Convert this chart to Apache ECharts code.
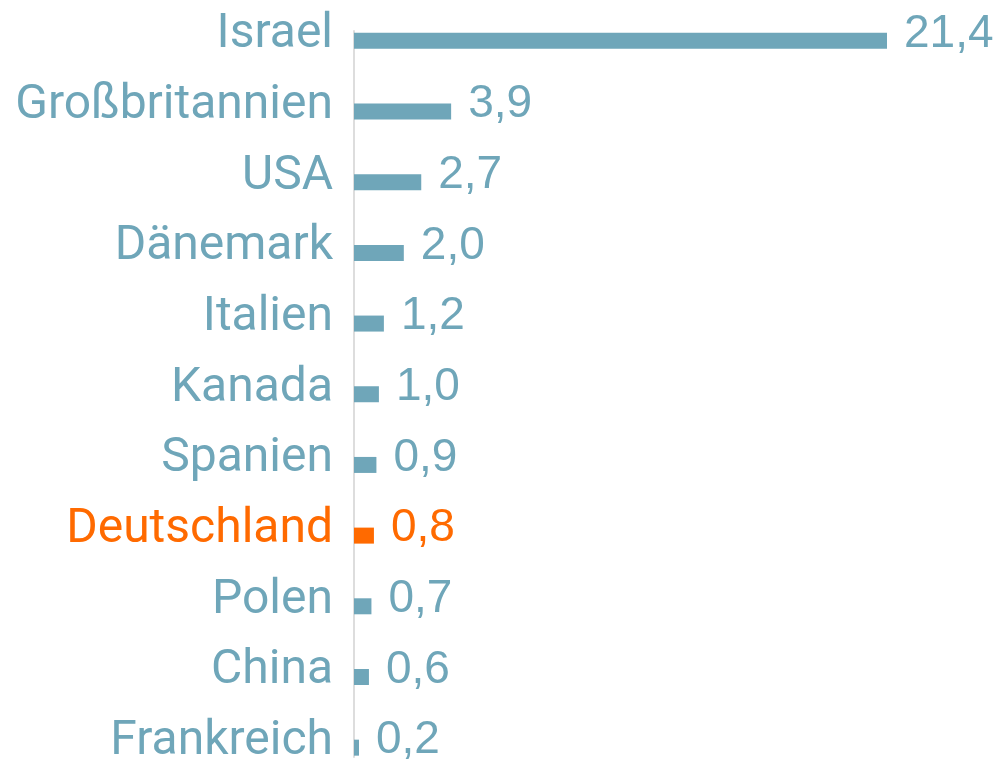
<!DOCTYPE html>
<html><head><meta charset="utf-8">
<script src="https://cdn.jsdelivr.net/npm/echarts@6/dist/echarts.min.js"></script>
<style>html,body{margin:0;padding:0;background:#fff}#c{width:1000px;height:783px}</style>
</head><body><div id="c"></div>
<script>
const categories = ["Israel","Großbritannien","USA","Dänemark","Italien","Kanada","Spanien","Deutschland","Polen","China","Frankreich"];
const values = [21.4,3.9,2.7,2.0,1.2,1.0,0.9,0.8,0.7,0.6,0.2];
const highlight = "Deutschland";
const BLUE = "#6fa6b9", ORANGE = "#ff6a00";
const chart = echarts.init(document.getElementById('c'));
const labelRich = {
  b: {fontFamily: 'Roboto', fontSize: 48, color: BLUE, padding: [0,0,11,0]},
  o: {fontFamily: 'Roboto', fontSize: 48, color: ORANGE, padding: [0,0,11,0]}
};
chart.setOption({
  animation: false,
  grid: [
    {left: 354, right: 113, top: 5.5, bottom: 0},
    {left: 354, right: 113, top: 31, bottom: 26}
  ],
  xAxis: [
    {gridIndex: 0, type: 'value', min: 0, max: 21.4, show: false},
    {gridIndex: 1, type: 'value', min: 0, max: 1, show: false}
  ],
  yAxis: [
    {gridIndex: 0, type: 'category', inverse: true, data: categories,
     axisLine: {show: false}, axisTick: {show: false},
     axisLabel: {margin: 21, rich: labelRich,
       formatter: v => (v === highlight ? '{o|' : '{b|') + v + '}'}},
    {gridIndex: 1, type: 'category', data: [''], axisLine: {show: true, lineStyle: {color: '#dddddd', width: 2}},
     axisTick: {show: false}, axisLabel: {show: false}}
  ],
  series: [{
    type: 'bar', xAxisIndex: 0, yAxisIndex: 0, barWidth: 16,
    data: values.map((v, i) => ({value: v, itemStyle: {color: categories[i] === highlight ? ORANGE : BLUE},
      label: {color: categories[i] === highlight ? ORANGE : BLUE}})),
    label: {show: true, position: 'right', distance: 17, fontFamily: 'Liberation Sans', fontSize: 46,
      offset: [0, -7],
      formatter: p => p.value.toFixed(1).replace('.', ',')}
  }]
});
</script></body></html>
